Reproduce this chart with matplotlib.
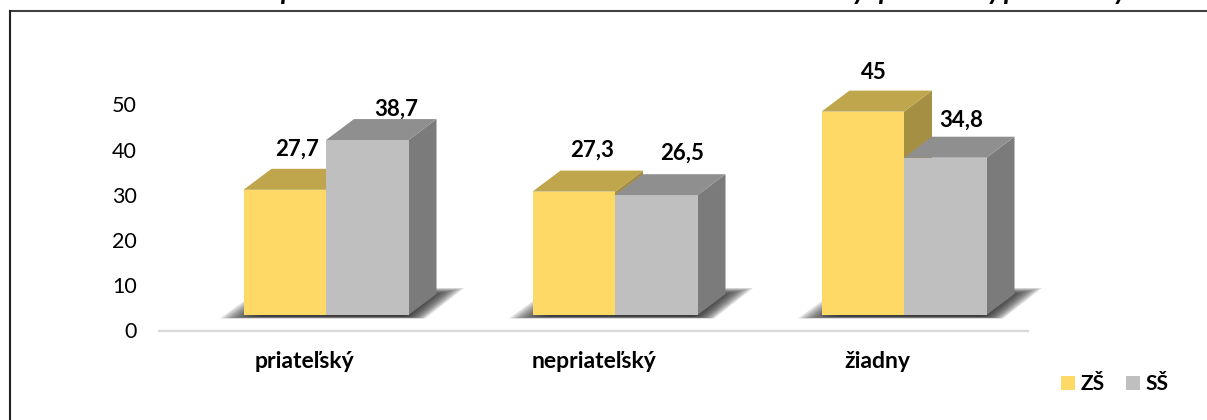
#!/usr/bin/env python3
"""3D-looking grouped bars, ZS vs SS, redrawn with plain polygons."""

import matplotlib

matplotlib.use("Agg")
import matplotlib.pyplot as plt
from matplotlib.lines import Line2D
from matplotlib.patches import Patch, Polygon
from matplotlib.transforms import ScaledTranslation

plt.rcParams["font.family"] = ["Lato", "DejaVu Sans"]

categories = ["priateľský", "nepriateľský", "žiadny"]
zs_values = [27.7, 27.3, 45]
ss_values = [38.7, 26.5, 34.8]
value_labels = [["27,7", "27,3", "45"], ["38,7", "26,5", "34,8"]]
y_ticks = [0, 10, 20, 30, 40, 50]
series_names = ["ZŠ", "SŠ"]

# Layout in pixels of the 1207x420 picture
W, H = 1207, 420
GROUP_STEP = 289
FIRST_SEAM = 326
Y_SCALE = 4.52
ZERO_Y = 330.5
AX_LEFT, AX_RIGHT, AX_TOP = 159, 1028, 60
BAR_W = 82.5
DEPTH_X, DEPTH_Y = 28, 21
FLOOR = 15.5

FACES = [
    {"front": "#FFD966", "top": "#BFA64D", "side": "#A58F42"},
    {"front": "#BFBFBF", "top": "#8F8F8F", "side": "#7B7B7B"},
]

# Label offsets from the top-left corner of each bar front (px)
LABEL_DX = [[54, 60, 52], [70, 67, 57]]
LABEL_DY = [[41, 41, 39], [31, 42, 38]]
CATEGORY_SHIFT = [-21, -21, -27]


def dx(px):
    return px / GROUP_STEP


def dy(px):
    return px / Y_SCALE


def draw_shadow(ax, seam):
    """Soft floor shadow, faked with stacked see-through polygons."""
    for inset in range(0, 30, 2):
        pts = [
            (seam + dx(-106 + inset * 1.5), dy(FLOOR - 3.5 + inset * 0.08)),
            (seam + dx(-64 + inset * 0.8), dy(FLOOR + 27 - inset * 0.3)),
            (seam + dx(138 - inset * 1.4), dy(FLOOR + 27 - inset * 0.3)),
            (seam + dx(99 - inset * 0.8), dy(FLOOR - 3.5 + inset * 0.08)),
        ]
        ax.add_patch(Polygon(pts, closed=True, fc="#282828", ec="none", alpha=0.14,
                             zorder=1, clip_on=False))


def draw_bar(ax, left, value, faces, zorder):
    """One box: side, top, then the real bar as the front face."""
    w = dx(BAR_W)
    base = dy(FLOOR)
    top = base + value
    ddx, ddy = dx(DEPTH_X), dy(DEPTH_Y)

    side = [(left + w, base), (left + w + ddx, base + ddy),
            (left + w + ddx, top + ddy), (left + w, top)]
    roof = [(left, top), (left + ddx, top + ddy),
            (left + w + ddx, top + ddy), (left + w, top)]
    ax.add_patch(Polygon(side, closed=True, fc=faces["side"], ec="none", zorder=zorder))
    ax.add_patch(Polygon(roof, closed=True, fc=faces["top"], ec="none", zorder=zorder))
    ax.bar(left, value, width=w, bottom=base, align="edge", color=faces["front"],
           linewidth=0, zorder=zorder + 0.1)


fig = plt.figure(figsize=(W / 100, H / 100), dpi=100)
ax = fig.add_axes([AX_LEFT / W, (H - ZERO_Y) / H, (AX_RIGHT - AX_LEFT) / W, (ZERO_Y - AX_TOP) / H])
ax.set_xlim(dx(AX_LEFT - FIRST_SEAM), dx(AX_RIGHT - FIRST_SEAM))
ax.set_ylim(0, (ZERO_Y - AX_TOP) / Y_SCALE)

positions = list(range(len(categories)))
for pos in positions:
    draw_shadow(ax, pos)

for s, values in enumerate([zs_values, ss_values]):
    for pos, value in zip(positions, values):
        left = pos - dx(BAR_W) * (1 - s)
        draw_bar(ax, left, value, FACES[s], zorder=3 + s)
        ax.annotate(
            value_labels[s][pos],
            xy=(left, dy(FLOOR) + value),
            xytext=(LABEL_DX[s][pos] * 0.72, LABEL_DY[s][pos] * 0.72),
            textcoords="offset points",
            ha="center",
            va="center",
            fontsize=16,
            fontweight="bold",
            color="black",
            zorder=6,
        )

for side in ["top", "left", "right"]:
    ax.spines[side].set_visible(False)
ax.spines["bottom"].set_color("#D9D9D9")
ax.spines["bottom"].set_linewidth(1.6)
ax.patch.set_alpha(0)

ax.set_yticks(y_ticks)
ax.set_yticklabels([str(t) for t in y_ticks], fontsize=15.5, color="black")
ax.tick_params(axis="y", length=0, pad=16)
ax.set_xticks(positions)
ax.set_xticklabels(categories, fontsize=16.5, fontweight="bold", color="black")
ax.tick_params(axis="x", length=0, pad=15)
for tick, shift in zip(ax.get_xticklabels(), CATEGORY_SHIFT):
    tick.set_transform(tick.get_transform() + ScaledTranslation(shift / 100, 0, fig.dpi_scale_trans))

handles = [Patch(fc=FACES[i]["front"], ec="none", label=series_names[i]) for i in range(2)]
fig.legend(
    handles=handles,
    ncol=2,
    frameon=False,
    loc="center left",
    bbox_to_anchor=(1042 / W, (H - 384) / H),
    prop={"weight": "bold", "size": 15},
    handlelength=0.67,
    handleheight=0.67,
    handletextpad=0.27,
    columnspacing=1.05,
)

# Outer frame, only top and left are inside the crop
fig.add_artist(Line2D([9.5 / W, 1], [(H - 10.5) / H] * 2, color="#404040", lw=1.5))
fig.add_artist(Line2D([9.5 / W] * 2, [0, (H - 10.5) / H], color="#202020", lw=1.5))

# The title is cut by the picture edge, only its descenders are left
for ch, x in [("p", 288), ("y", 859), ("p", 886), ("y", 994), ("p", 1011), ("y", 1120)]:
    fig.text(x / W, 1 + 1.5 / H, ch, ha="center", va="baseline", fontsize=20,
             fontweight="bold", fontstyle="italic")

fig.savefig("out.png", dpi=100)
